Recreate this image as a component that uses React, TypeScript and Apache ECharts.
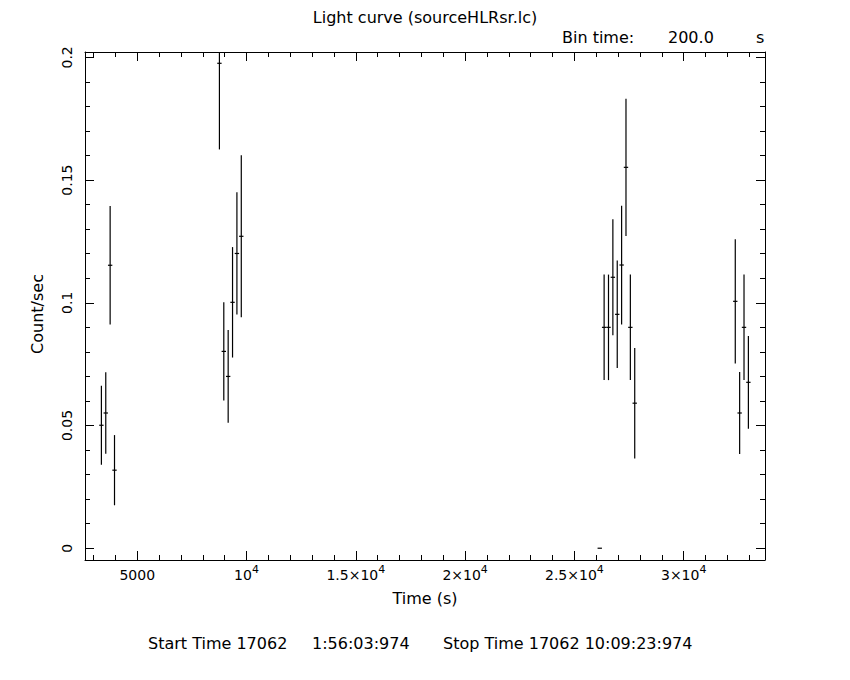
import React, { useEffect, useRef } from "react";
import * as echarts from "echarts";

// ---- Data ----
const times = [
  3360, 3560, 3760, 3960,
  8760, 8960, 9160, 9360, 9560, 9760,
  26160, 26360, 26560, 26760, 26960, 27160, 27360, 27560, 27760,
  32360, 32560, 32760, 32960,
];
const rates = [
  0.0501, 0.0551, 0.1153, 0.0318,
  0.1976, 0.0802, 0.07, 0.1002, 0.1201, 0.1271,
  0, 0.09, 0.09, 0.1104, 0.0953, 0.1154, 0.1552, 0.09, 0.0591,
  0.1006, 0.0551, 0.09, 0.0676,
];
const errors = [
  0.0161, 0.0166, 0.0241, 0.0143,
  0.0351, 0.02, 0.0189, 0.0225, 0.0249, 0.033,
  0, 0.0215, 0.0215, 0.0236, 0.0219, 0.0242, 0.028, 0.0215, 0.0225,
  0.0253, 0.0167, 0.0215, 0.0189,
];
const BIN_TIME = 200;

const X_MIN = 2610;
const X_MAX = 33720;
const Y_MIN = -0.0048;
const Y_MAX = 0.2022;

const xMajorTicks = [5000, 10000, 15000, 20000, 25000, 30000];
const xTickLabels = ["5000", "10{s|4}", "1.5×10{s|4}", "2×10{s|4}", "2.5×10{s|4}", "3×10{s|4}"];
const xMinorTicks = [3000, 4000, 6000, 7000, 8000, 9000, 11000, 12000, 13000, 14000, 16000, 17000, 18000, 19000, 21000, 22000, 23000, 24000, 26000, 27000, 28000, 29000, 31000, 32000, 33000];
const yMajorTicks = [0, 0.05, 0.1, 0.15, 0.2];
const yTickLabels = ["0", "0.05", "0.1", "0.15", "0.2"];
const yMinorTicks = [0.01, 0.02, 0.03, 0.04, 0.06, 0.07, 0.08, 0.09, 0.11, 0.12, 0.13, 0.14, 0.16, 0.17, 0.18, 0.19];

const FONT = "DejaVu Sans";
const BLACK = "#000";
const TXT = 16;

export default function App() {
  const ref = useRef<HTMLDivElement>(null);

  useEffect(() => {
    document.body.style.margin = "0";
    if (!ref.current) return;
    const chart = echarts.init(ref.current, undefined, { renderer: "svg" });

    const data = times.map((t, i) => [t, rates[i], errors[i]]);

    const baseX = (position: string, ticks: number[], len: number, showLine: boolean, showLabel: boolean) => ({
      type: "value",
      position,
      min: X_MIN,
      max: X_MAX,
      splitLine: { show: false },
      axisLine: { show: showLine, onZero: false, lineStyle: { color: BLACK, width: 1 } },
      axisTick: { show: true, inside: true, length: len, customValues: ticks, lineStyle: { color: BLACK, width: 1 } },
      axisLabel: showLabel
        ? {
            show: true,
            customValues: xMajorTicks,
            margin: 4,
            color: BLACK,
            fontFamily: FONT,
            fontSize: 14,
            lineHeight: 22,
            verticalAlign: "top",
            rich: {
              s: { fontFamily: FONT, fontSize: 11, color: BLACK, verticalAlign: "top", lineHeight: 12 },
            },
            formatter: (v: number) => {
              const i = xMajorTicks.indexOf(v);
              return i >= 0 ? xTickLabels[i] : "";
            },
          }
        : { show: false },
    });

    const baseY = (position: string, ticks: number[], len: number, showLine: boolean, showLabel: boolean) => ({
      type: "value",
      position,
      min: Y_MIN,
      max: Y_MAX,
      splitLine: { show: false },
      axisLine: { show: showLine, onZero: false, lineStyle: { color: BLACK, width: 1 } },
      axisTick: { show: true, inside: true, length: len, customValues: ticks, lineStyle: { color: BLACK, width: 1 } },
      axisLabel: showLabel
        ? {
            show: true,
            customValues: yMajorTicks,
            rotate: 90,
            margin: 11,
            color: BLACK,
            fontFamily: FONT,
            fontSize: 14,
            formatter: (v: number) => {
              const i = yMajorTicks.findIndex((t) => Math.abs(t - v) < 1e-9);
              return i >= 0 ? yTickLabels[i] : "";
            },
          }
        : { show: false },
    });

    const option: any = {
      animation: false,
      backgroundColor: "#fff",
      title: {
        text: "Light curve (sourceHLRsr.lc)",
        left: "center",
        top: 4,
        textStyle: { fontFamily: FONT, fontSize: TXT, fontWeight: "normal", color: BLACK },
      },
      grid: { left: 85, right: 85, top: 52, bottom: 120, containLabel: false },
      xAxis: [
        {
          ...baseX("bottom", xMajorTicks, 9, true, true),
          name: "Time (s)",
          nameLocation: "middle",
          nameGap: 28,
          nameTextStyle: { fontFamily: FONT, fontSize: TXT, color: BLACK },
        },
        baseX("bottom", xMinorTicks, 5, false, false),
        baseX("top", xMajorTicks, 9, true, false),
        baseX("top", xMinorTicks, 5, false, false),
      ],
      yAxis: [
        {
          ...baseY("left", yMajorTicks, 9, true, true),
          name: "Count/sec",
          nameLocation: "middle",
          nameGap: 40,
          nameTextStyle: { fontFamily: FONT, fontSize: TXT, color: BLACK, padding: [0, 16, 0, 0] },
        },
        baseY("left", yMinorTicks, 5, false, false),
        baseY("right", yMajorTicks, 9, true, false),
        baseY("right", yMinorTicks, 5, false, false),
      ],
      graphic: [
        { type: "text", left: 562, top: 29, style: { text: "Bin time:", fontFamily: FONT, fontSize: TXT, fill: BLACK } },
        { type: "text", left: 668, top: 29, style: { text: "200.0", fontFamily: FONT, fontSize: TXT, fill: BLACK } },
        { type: "text", left: 756, top: 29, style: { text: "s", fontFamily: FONT, fontSize: TXT, fill: BLACK } },
        { type: "text", left: 148, top: 635, style: { text: "Start Time 17062", fontFamily: FONT, fontSize: TXT, fill: BLACK } },
        { type: "text", left: 312, top: 635, style: { text: "1:56:03:974", fontFamily: FONT, fontSize: TXT, fill: BLACK } },
        { type: "text", left: 443, top: 635, style: { text: "Stop Time 17062 10:09:23:974", fontFamily: FONT, fontSize: TXT, fill: BLACK } },
      ],
      series: [
        {
          type: "custom",
          xAxisIndex: 0,
          yAxisIndex: 0,
          data,
          renderItem: (params: any, api: any) => {
            const x = api.value(0);
            const y = api.value(1);
            const e = api.value(2);
            const top = api.coord([x, Math.min(y + e, Y_MAX)]);
            const bot = api.coord([x, Math.max(y - e, Y_MIN)]);
            const l = api.coord([x - BIN_TIME / 2, y]);
            const r = api.coord([x + BIN_TIME / 2, y]);
            const style = { stroke: BLACK, lineWidth: 1.2 };
            return {
              type: "group",
              children: [
                { type: "line", shape: { x1: top[0], y1: top[1], x2: bot[0], y2: bot[1] }, style },
                { type: "line", shape: { x1: l[0], y1: l[1], x2: r[0], y2: r[1] }, style },
              ],
            };
          },
        },
      ],
    };

    chart.setOption(option);
    return () => chart.dispose();
  }, []);

  return <div ref={ref} style={{ width: 850, height: 680 }} />;
}
